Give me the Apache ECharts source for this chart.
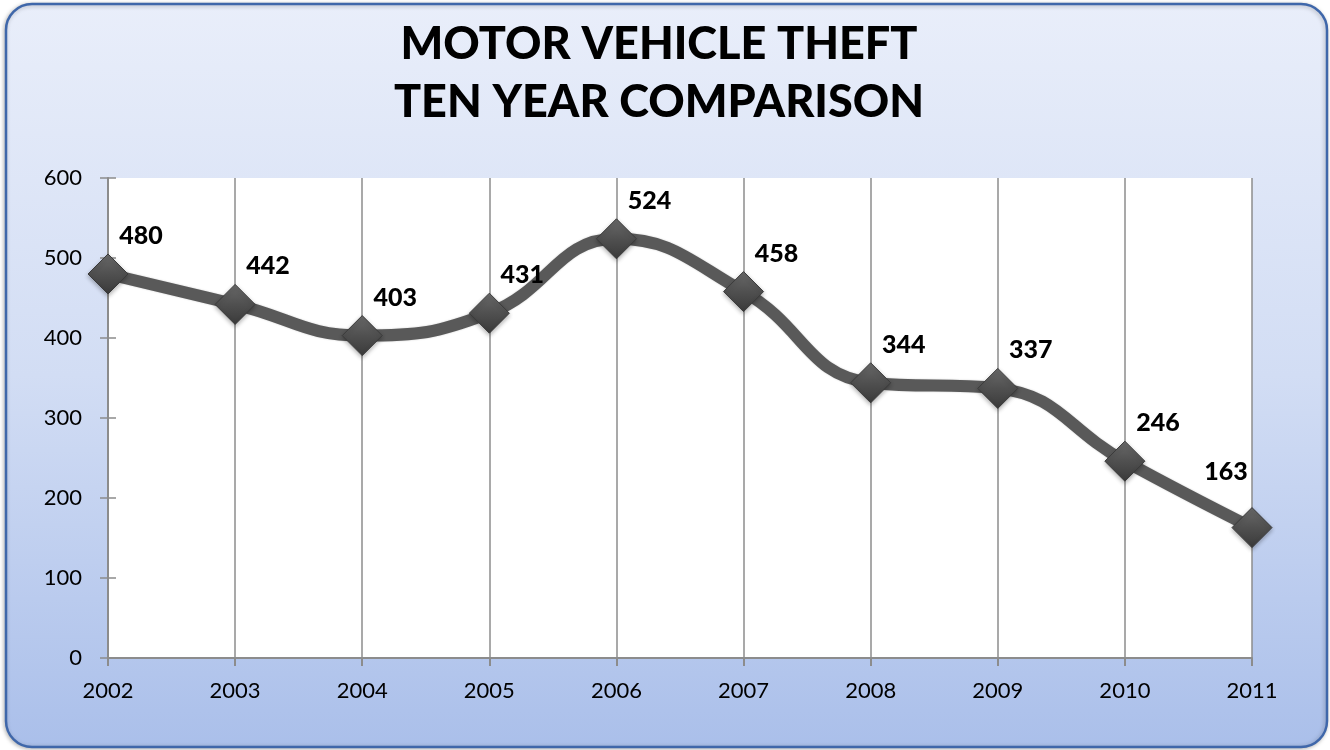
<!DOCTYPE html>
<html>
<head>
<meta charset="utf-8">
<script src="https://cdn.jsdelivr.net/npm/echarts@6/dist/echarts.min.js"></script>
<style>
html,body{margin:0;padding:0;background:#ffffff;}
#chart{width:1330px;height:750px;}
</style>
</head>
<body>
<div id="chart"></div>
<script>
const titleLines = ['MOTOR VEHICLE THEFT', 'TEN YEAR COMPARISON'];
const years = ['2002', '2003', '2004', '2005', '2006', '2007', '2008', '2009', '2010', '2011'];
const thefts = [480, 442, 403, 431, 524, 458, 344, 337, 246, 163];
const yMin = 0, yMax = 600, yStep = 100;

const FONT = 'Lato';
const chart = echarts.init(document.getElementById('chart'), null, {renderer: 'canvas'});

const lastIdx = thefts.length - 1;
const seriesData = thefts.map((v, i) => i === lastIdx
  ? {value: v, label: {offset: [-26, -56]}}
  : v);

const option = {
  animation: false,
  backgroundColor: 'transparent',
  graphic: [{
    type: 'rect',
    z: -10,
    silent: true,
    shape: {x: 6, y: 4, width: 1321, height: 743, r: 26},
    style: {
      fill: new echarts.graphic.LinearGradient(0, 0, 0, 1, [
        {offset: 0, color: '#e9eefa'},
        {offset: 0.5, color: '#d2ddf4'},
        {offset: 1, color: '#aabfea'}
      ]),
      stroke: '#3f67aa',
      lineWidth: 2.5,
      shadowBlur: 4,
      shadowColor: 'rgba(0,0,0,0.25)',
      shadowOffsetX: -1,
      shadowOffsetY: 1
    }
  }],
  title: {
    text: titleLines.join('\n'),
    left: 654,
    textAlign: 'center',
    top: 10,
    textStyle: {
      fontFamily: FONT,
      fontWeight: 900,
      fontSize: 45,
      lineHeight: 58,
      color: '#000'
    }
  },
  grid: {
    left: 108, right: 78, top: 178, bottom: 92,
    show: true,
    backgroundColor: '#ffffff',
    borderWidth: 0,
    containLabel: false
  },
  xAxis: {
    type: 'category',
    data: years,
    boundaryGap: false,
    axisLine: {show: true, lineStyle: {color: '#8c8c8c', width: 2}},
    axisTick: {show: true, length: 8, alignWithLabel: true, lineStyle: {color: '#8c8c8c', width: 2}},
    axisLabel: {
      margin: 22,
      fontFamily: FONT,
      fontSize: 22,
      color: '#000'
    },
    splitLine: {show: true, lineStyle: {color: '#8c8c8c', width: 1.5}}
  },
  yAxis: [{
    type: 'value',
    min: yMin, max: yMax, interval: yStep,
    axisLine: {show: true, lineStyle: {color: '#8c8c8c', width: 2}},
    axisTick: {show: true, length: 8, lineStyle: {color: '#8c8c8c', width: 1.5}},
    axisLabel: {
      margin: 26,
      fontFamily: FONT,
      fontSize: 22,
      color: '#000'
    },
    splitLine: {show: false}
  }, {
    type: 'value',
    position: 'left',
    min: yMin, max: yMax, interval: yStep,
    axisLine: {show: false},
    axisTick: {show: true, inside: true, length: 8, lineStyle: {color: '#8c8c8c', width: 1.5}},
    axisLabel: {show: false},
    splitLine: {show: false}
  }],
  series: [{
    type: 'line',
    data: seriesData,
    smooth: 0.45,
    symbol: 'diamond',
    symbolSize: [40, 40],
    z: 5,
    lineStyle: {
      color: '#595959',
      width: 12,
      shadowBlur: 2,
      shadowColor: 'rgba(0,0,0,0.2)'
    },
    itemStyle: {
      color: new echarts.graphic.LinearGradient(0, 0, 0, 1, [
        {offset: 0, color: '#6a6a6a'},
        {offset: 0.5, color: '#505050'},
        {offset: 1, color: '#3a3a3a'}
      ]),
      borderColor: '#3a3a3a',
      borderWidth: 1,
      shadowBlur: 4,
      shadowColor: 'rgba(0,0,0,0.3)',
      shadowOffsetY: 2
    },
    label: {
      show: true,
      position: 'inside',
      offset: [33, -38],
      fontFamily: FONT,
      fontWeight: 900,
      fontSize: 25,
      color: '#000'
    }
  }]
};
chart.setOption(option);
</script>
</body>
</html>
